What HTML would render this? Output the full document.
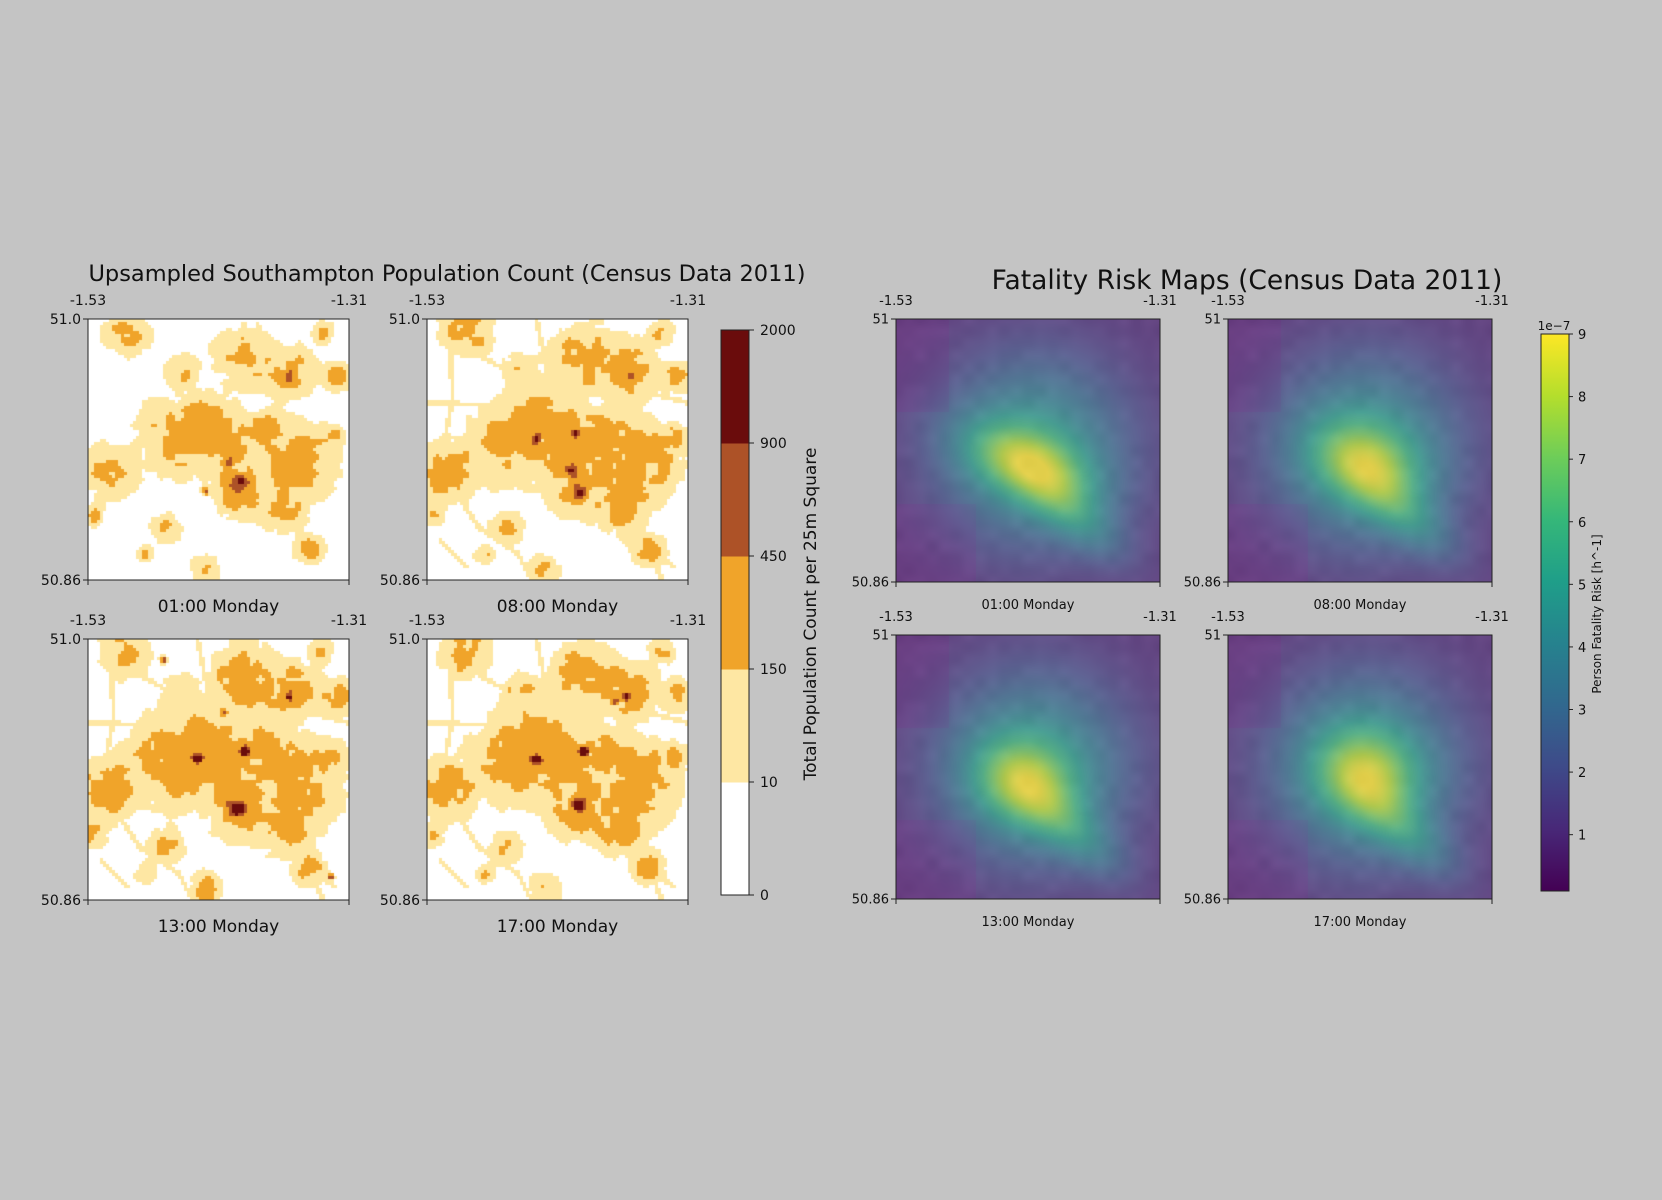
<!DOCTYPE html>
<html><head><meta charset="utf-8">
<style>
html,body{margin:0;padding:0;background:#c4c4c4;}
#wrap{position:relative;width:1662px;height:1200px;overflow:hidden;background:#c4c4c4;font-family:"DejaVu Sans","Liberation Sans",sans-serif;}
canvas,svg{position:absolute;left:0;top:0;}
</style></head>
<body>
<div id="wrap">
<canvas id="cv" width="1662" height="1200"></canvas>
<svg id="sv" width="1662" height="1200"></svg>
</div>
<script>
// ---------- data ----------
const popLevels = [0, 10, 150, 450, 900, 2000];
const popColors = ["#ffffff", "#fee7a3", "#f0a42a", "#ad5227", "#6a0c0c"];
const popTimes = ["01:00 Monday", "08:00 Monday", "13:00 Monday", "17:00 Monday"];
// base blobs [x, y, radius, amplitude] in panel-normalized units
const popBaseBlobs = [
 [0.15,0.05,0.06,260],[0.36,0.2,0.045,220],[0.6,0.15,0.08,300],[0.77,0.2,0.07,300],
 [0.96,0.22,0.04,260],[0.08,0.58,0.07,320],[0.34,0.46,0.1,420],[0.52,0.47,0.08,400],
 [0.58,0.65,0.07,380],[0.8,0.55,0.1,380],[0.75,0.73,0.06,320],[0.3,0.8,0.04,260],
 [0.85,0.88,0.04,260],[0.45,0.96,0.04,220],[0.02,0.75,0.03,200],[0.43,0.37,0.06,360],
 [0.95,0.45,0.03,220],[0.22,0.9,0.025,180],[0.9,0.05,0.03,200],[0.68,0.42,0.05,320]
];
// hotspots per panel [x, y, radius, amplitude]
const popHot01 = [[0.58,0.62,0.02,900],[0.54,0.55,0.015,600],[0.77,0.22,0.015,600],[0.45,0.66,0.012,500]];
const popHot08 = [[0.42,0.46,0.01,2500],[0.57,0.44,0.008,1800],[0.58,0.67,0.02,900],[0.55,0.58,0.015,800],[0.78,0.22,0.01,600]];
const popHot13 = [[0.42,0.46,0.012,2500],[0.6,0.43,0.014,2500],[0.57,0.65,0.022,1700],[0.29,0.08,0.01,900],[0.77,0.22,0.014,900],[0.93,0.91,0.01,900],[0.52,0.28,0.01,700]];
const popHot17 = [[0.42,0.46,0.011,2500],[0.6,0.43,0.014,2500],[0.58,0.64,0.018,1500],[0.77,0.22,0.012,900],[0.72,0.24,0.01,700]];
const popHotAll = [popHot01, popHot08, popHot13, popHot17];
const popSpread = [1.0, 1.15, 1.2, 1.15];
// roads (light level) as polylines
const popRoads = [
 [[0,0.32],[0.25,0.33],[0.5,0.3],[0.8,0.27],[1,0.32]],
 [[0.08,0],[0.1,0.3],[0.05,0.55]],
 [[0.2,0],[0.22,0.15],[0.45,0.28]],
 [[0.42,0],[0.46,0.2],[0.5,0.32],[0.58,0.45]],
 [[0.1,0.65],[0.2,0.8],[0.35,0.9],[0.4,1]],
 [[0.6,0.7],[0.75,0.82],[0.95,0.95]],
 [[0.55,0.38],[0.7,0.38],[0.85,0.45],[1,0.5]],
 [[0.05,0.85],[0.15,0.95]],
 [[0.8,0.6],[0.82,0.8],[0.9,1]]
];
const riskTimes = ["01:00 Monday", "08:00 Monday", "13:00 Monday", "17:00 Monday"];
const riskPeak = [9.0, 8.7, 8.8, 8.8];
const riskCx = [0.5, 0.52, 0.48, 0.52];
const riskCy = [0.55, 0.55, 0.56, 0.53];
const riskSpreadX = [0.26, 0.22, 0.2, 0.2];
const riskSpreadY = [0.13, 0.15, 0.16, 0.17];
const riskTicks = [1,2,3,4,5,6,7,8,9];
const riskMin = 0.1, riskMax = 9.0;

// ---------- layout ----------
const L = [[88,319,261,261],[427,319,261,261],[88,639,261,261],[427,639,261,261]];
const R = [[896,319,264,263],[1228,319,264,263],[896,635,264,264],[1228,635,264,264]];

const cv = document.getElementById('cv'), ctx = cv.getContext('2d');
const sv = document.getElementById('sv');
const NS = "http://www.w3.org/2000/svg";
function el(tag, attrs, parent){const e=document.createElementNS(NS,tag);for(const k in attrs)e.setAttribute(k,attrs[k]);(parent||sv).appendChild(e);return e;}
function txt(x,y,s,size,anchor,extra){const t=el('text',Object.assign({x:x,y:y,'font-size':size,'text-anchor':anchor||'middle',fill:'#111','font-family':'"DejaVu Sans","Liberation Sans",sans-serif'},extra||{}));t.textContent=s;return t;}

function hash(i,j){let h=(i*374761393+j*668265263)|0;h=(h^(h>>>13))*1274126177|0;return ((h^(h>>>16))>>>0)/4294967295;}
function vnoise(x,y){const i=Math.floor(x),j=Math.floor(y),fx=x-i,fy=y-j;const sx=fx*fx*(3-2*fx),sy=fy*fy*(3-2*fy);
 const a=hash(i,j),b=hash(i+1,j),c=hash(i,j+1),d=hash(i+1,j+1);return a+(b-a)*sx+(c-a)*sy+(a-b-c+d)*sx*sy;}
function segDist(px,py,ax,ay,bx,by){const dx=bx-ax,dy=by-ay;let t=((px-ax)*dx+(py-ay)*dy)/(dx*dx+dy*dy);t=Math.max(0,Math.min(1,t));const qx=ax+t*dx-px,qy=ay+t*dy-py;return Math.sqrt(qx*qx+qy*qy);}
function hex(c){return [parseInt(c.substr(1,2),16),parseInt(c.substr(3,2),16),parseInt(c.substr(5,2),16)];}

// ---------- population panels ----------
const popRGB = popColors.map(hex);
function popValue(k,x,y){
 let v=0;const sp=popSpread[k];
 for(const b of popBaseBlobs){const dx=x-b[0],dy=y-b[1];v+=b[3]*Math.exp(-(dx*dx+dy*dy)/(b[2]*b[2]*sp*sp));}
 const n=(0.3+1.4*vnoise(x*32+k*5,y*32))*(0.6+0.9*vnoise(x*9,y*9+k*2));
 v*=n;
 v=Math.min(v,440);
 for(const b of popHotAll[k]){const dx=x-b[0],dy=y-b[1];v+=b[3]*Math.exp(-(dx*dx+dy*dy)/(b[2]*b[2]));}
 if(v<30) v*=0.5;
 if(k>0){for(const r of popRoads){for(let i=0;i<r.length-1;i++){const d=segDist(x,y,r[i][0],r[i][1],r[i+1][0],r[i+1][1]);if(d<0.009){v=Math.max(v,40);}}}}
 return v;
}
for(let k=0;k<4;k++){
 const [px,py,pw,ph]=L[k];const img=ctx.createImageData(pw,ph);const cell=3;
 for(let cy=0;cy<ph;cy+=cell)for(let cx=0;cx<pw;cx+=cell){
  const v=popValue(k,(cx+1.5)/pw,(cy+1.5)/ph);let li=0;for(let i=1;i<popLevels.length-1;i++)if(v>=popLevels[i])li=i;
  const c=popRGB[li];
  for(let yy=cy;yy<Math.min(cy+cell,ph);yy++)for(let xx=cx;xx<Math.min(cx+cell,pw);xx++){const o=(yy*pw+xx)*4;img.data[o]=c[0];img.data[o+1]=c[1];img.data[o+2]=c[2];img.data[o+3]=255;}
 }
 ctx.putImageData(img,px,py);
}

// ---------- risk panels ----------
const vir=[[68,1,84],[72,40,120],[62,74,137],[49,104,142],[38,130,142],[31,158,137],[53,183,121],[109,205,89],[180,222,44],[253,231,37]];
function viridis(t){t=Math.max(0,Math.min(1,t));const s=t*(vir.length-1),i=Math.min(vir.length-2,Math.floor(s)),f=s-i;return [0,1,2].map(j=>vir[i][j]+(vir[i+1][j]-vir[i][j])*f);}
function riskValue(k,x,y){
 const a=22*Math.PI/180;const dx=x-riskCx[k],dy=y-riskCy[k];
 const u=dx*Math.cos(a)+dy*Math.sin(a),w=-dx*Math.sin(a)+dy*Math.cos(a);
 let v=(riskPeak[k]-5.2)*Math.exp(-(u*u/(riskSpreadX[k]*riskSpreadX[k])+w*w/(riskSpreadY[k]*riskSpreadY[k])));
 v+=4.2*Math.exp(-((x-0.52)*(x-0.52)+(y-0.5)*(y-0.5))/0.13);
 const a2=40*Math.PI/180,u2=(x-0.68)*Math.cos(a2)+(y-0.75)*Math.sin(a2),w2=-(x-0.68)*Math.sin(a2)+(y-0.75)*Math.cos(a2);
 v+=2.2*Math.exp(-(u2*u2/0.06+w2*w2/0.01));
 return riskMin+0.7+v;
}
for(let k=0;k<4;k++){
 const [px,py,pw,ph]=R[k];const img=ctx.createImageData(pw,ph);
 for(let yy=0;yy<ph;yy++)for(let xx=0;xx<pw;xx++){
  const x=xx/pw,y=yy/ph;const c=viridis((riskValue(k,x,y)-riskMin)/(riskMax-riskMin));
  const m=165+30*(vnoise(x*22,y*22)-0.5);
  const mag=(x<0.2&&y<0.35)||(y>0.7&&x<0.3)?[1.1,0.85,1.0]:[1,1,1];
  const o=(yy*pw+xx)*4;
  img.data[o]=(0.7*c[0]+0.3*m*mag[0]);img.data[o+1]=(0.7*c[1]+0.3*m*0.92*mag[1]);img.data[o+2]=(0.7*c[2]+0.3*m*mag[2]);img.data[o+3]=255;
 }
 ctx.putImageData(img,px,py);
}

// ---------- annotations ----------
txt(447,281,"Upsampled Southampton Population Count (Census Data 2011)",22.5,'middle',{});
txt(1247,289,"Fatality Risk Maps (Census Data 2011)",26.5,'middle',{});

function axesFrame(p,size,yTop,yBot,title,titleY,names){
 const [x,y,w,h]=p;
 const g=el('g',{});
 
 
 el('rect',{x:x,y:y,width:w,height:h,fill:'none',stroke:'#222','stroke-width':1},g);
 el('line',{x1:x,y1:y,x2:x-5,y2:y,stroke:'#222'},g);
 el('line',{x1:x,y1:y+h,x2:x-5,y2:y+h,stroke:'#222'},g);
 el('line',{x1:x,y1:y+h,x2:x,y2:y+h+5,stroke:'#222'},g);
 el('line',{x1:x+w,y1:y+h,x2:x+w,y2:y+h+5,stroke:'#222'},g);
 const a=txt(x,y-14,"-1.53",size,'middle',{});g.appendChild(a);
 const b=txt(x+w,y-14,"-1.31",size,'middle',{});g.appendChild(b);
 const c=txt(x-7,y+size*0.35,yTop,size,'end',{});g.appendChild(c);
 const d=txt(x-7,y+h+size*0.35,yBot,size,'end',{});g.appendChild(d);
 const t=txt(x+w/2,titleY,title,size>13?17:13,'middle',{});g.appendChild(t);
}
for(let k=0;k<4;k++) axesFrame(L[k],14,"51.0","50.86",popTimes[k],L[k][1]+L[k][3]+32,'population-panel-'+k);
for(let k=0;k<4;k++) axesFrame(R[k],13,"51","50.86",riskTimes[k],R[k][1]+R[k][3]+27,'risk-panel-'+k);

// population colorbar
const pcb={x:721,y:330,w:28,h:565};
const pg=el('g',{});


const nseg=popColors.length;
for(let i=0;i<nseg;i++){
 const segH=pcb.h/nseg;const yy=pcb.y+pcb.h-(i+1)*segH;
 const r=el('rect',{x:pcb.x,y:yy,width:pcb.w,height:segH+0.5,fill:popColors[i]},pg);
 
 
}
el('rect',{x:pcb.x,y:pcb.y,width:pcb.w,height:pcb.h,fill:'none',stroke:'#222'},pg);
for(let i=0;i<popLevels.length;i++){
 const yy=pcb.y+pcb.h-i*pcb.h/nseg;
 el('line',{x1:pcb.x+pcb.w,y1:yy,x2:pcb.x+pcb.w+5,y2:yy,stroke:'#222'},pg);
 const t=txt(pcb.x+pcb.w+11,yy+5,String(popLevels[i]),14,'start',{});
 
 
 pg.appendChild(t);
}
txt(0,0,"Total Population Count per 25m Square",17,'middle',{transform:'translate(816,614) rotate(-90)',});

// risk colorbar
const rcb={x:1541,y:334,w:28,h:557};
const defs=el('defs',{});const lg=el('linearGradient',{id:'vg',x1:0,y1:1,x2:0,y2:0},defs);
for(let i=0;i<vir.length;i++){const c=vir[i];el('stop',{offset:(i/(vir.length-1)),'stop-color':'rgb('+c.join(',')+')'},lg);}
const rg=el('g',{});


el('rect',{x:rcb.x,y:rcb.y,width:rcb.w,height:rcb.h,fill:'url(#vg)',stroke:'#222'},rg);
function ry(v){return rcb.y+rcb.h-(v-riskMin)/(riskMax-riskMin)*rcb.h;}
for(const v of riskTicks){
 const yy=ry(v);
 el('line',{x1:rcb.x+rcb.w,y1:yy,x2:rcb.x+rcb.w+4,y2:yy,stroke:'#222'},rg);
 const t=txt(rcb.x+rcb.w+9,yy+5,String(v),13,'start',{});
 
 
 rg.appendChild(t);
}
txt(1554,330,"1e\u22127",12,'middle',{});
txt(0,0,"Person Fatality Risk [h^-1]",12,'middle',{transform:'translate(1601,614) rotate(-90)',});
</script>
</body></html>
